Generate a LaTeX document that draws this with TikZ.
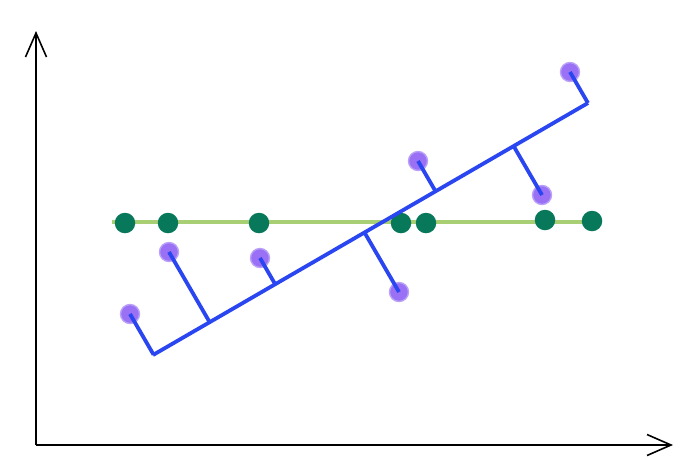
\documentclass[tikz,border=0pt]{standalone}
\usepackage{tikz}
\usetikzlibrary{calc, arrows.meta}
\definecolor{fitblue}{HTML}{2A46F0}
\definecolor{meangreen}{HTML}{A9CF74}
\definecolor{dotgreen}{HTML}{07795A}
\definecolor{dotpurple}{HTML}{9A70F4}
\definecolor{ringpurple}{HTML}{B9A0F8}

\begin{document}
\begin{tikzpicture}[
		x=1pt, y=-1pt,
		every node/.style={circle,inner sep=0pt},
		green dot/.style={fill=dotgreen,minimum size=20.5pt},
		purple dot/.style={fill=dotpurple,draw=ringpurple,line width=1.4pt,minimum size=19pt},
		axis/.style={line width=1.6pt,-{Straight Barb[length=24pt,width=21pt,line width=1.6pt]}},
		fit/.style={fitblue,line width=3.8pt}]
		\useasboundingbox (0,0) rectangle (685,459);
		\coordinate (o) at (36,445);
		\coordinate (ytip) at (36,31);
		\coordinate (xtip) at (673,445);
		\draw[axis] (o) -- (ytip);
		\draw[axis] (o) -- (xtip);
		
		% mean line
		\coordinate (m1) at (112,222);
		\coordinate (m2) at (600,222);
		\draw[meangreen,line width=3.8pt] (m1) -- (m2);
		\node[green dot] (g1) at (125,223) {};
		\node[green dot] (g2) at (168,223) {};
		\node[green dot] (g3) at (259,223) {};
		\node[green dot] (g4) at (401,223) {};
		\node[green dot] (g5) at (426,223) {};
		\node[green dot] (g6) at (545,220) {};
		\node[green dot] (g7) at (592,221) {};
		
		% data points
		\node[purple dot] (p1) at (130,314) {};
		\node[purple dot] (p2) at (169,252) {};
		\node[purple dot] (p3) at (260,258) {};
		\node[purple dot] (p4) at (399,292) {};
		\node[purple dot] (p5) at (418,161) {};
		\node[purple dot] (p6) at (542,195) {};
		\node[purple dot] (p7) at (570,72) {};
		
		% fitted line and projections
		\coordinate (a) at (153,355);
		\coordinate (b) at (588,103);
		\draw[fit] (a) -- (b);
		\foreach \i in {1,...,7}
			\draw[fit] (p\i.center) -- ($(a)!(p\i.center)!(b)$);
		
	\end{tikzpicture}
\end{document}
